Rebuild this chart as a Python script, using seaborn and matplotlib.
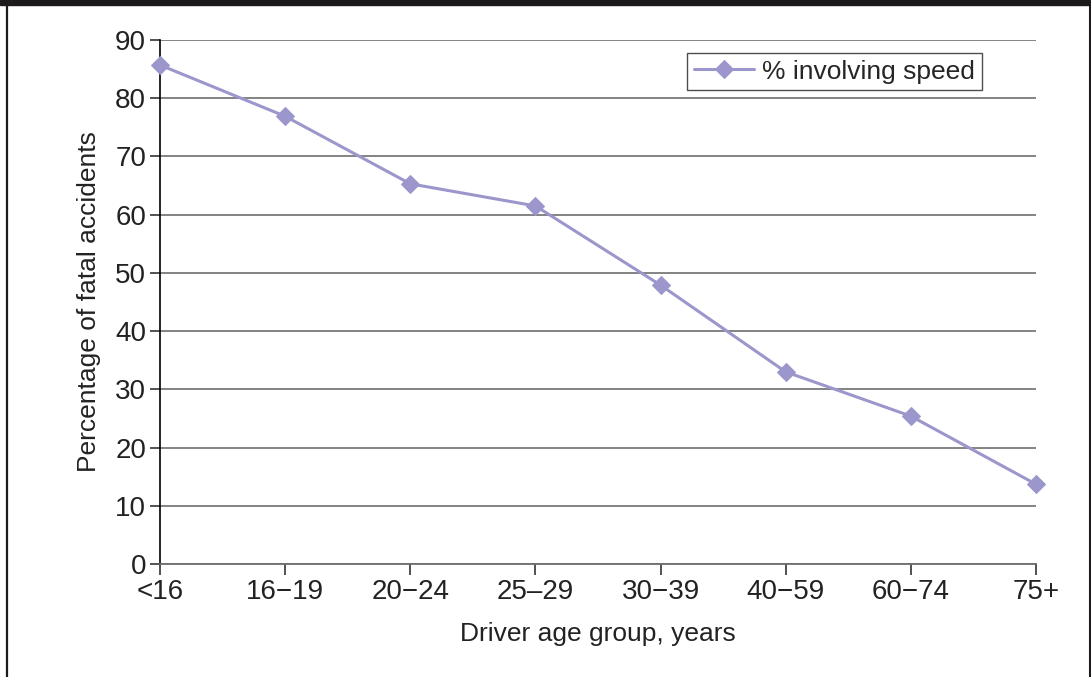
import matplotlib
matplotlib.use("Agg")
import matplotlib.pyplot as plt
import seaborn as sns
import pandas as pd
from matplotlib.lines import Line2D
from matplotlib.patches import Rectangle

age_groups = ["<16", "16\u221219", "20\u221224", "25\u201329", "30\u221239", "40\u221259", "60\u221274", "75+"]
pct_speed = [85.7, 76.9, 65.3, 61.5, 47.9, 33.0, 25.4, 13.7]

df = pd.DataFrame({"age": age_groups, "pct": pct_speed})
df["pos"] = range(len(df))

sns.set_style("white")
plt.rcParams["font.family"] = ["Liberation Sans", "DejaVu Sans"]

line_color = "#9b97cc"
W, H = 1091, 677

fig = plt.figure(figsize=(W / 100, H / 100), dpi=100)
ax = fig.add_axes([160 / W, 1 - 564 / H, (1036 - 160) / W, (564 - 40) / H])

sns.lineplot(data=df, x="pos", y="pct", ax=ax, color=line_color, linewidth=2.2,
             marker="D", markersize=9, markeredgecolor=line_color,
             label="% involving speed", clip_on=False, zorder=5)

ax.set_xlim(0, len(age_groups) - 1)
ax.set_ylim(0, 90)
ax.set_yticks(range(0, 91, 10))
ax.set_xticks(df["pos"])
ax.set_xticklabels(age_groups)
ax.yaxis.grid(True, color="#7a7a7a", linewidth=1.3)
ax.set_axisbelow(True)

for s in ["top", "right"]:
    ax.spines[s].set_visible(False)
ax.spines["left"].set_color("black")
ax.spines["left"].set_linewidth(1.2)
ax.spines["bottom"].set_color("#6e6e6e")
ax.spines["bottom"].set_linewidth(1.3)

ax.tick_params(axis="y", length=7, width=1.2, color="#333333", labelsize=20, pad=3, left=True)
ax.tick_params(axis="x", length=8, width=1.2, color="#333333", labelsize=20, pad=3, bottom=True, direction="out")

ax.set_xlabel("Driver age group, years", fontsize=19, labelpad=12, color="#222222")
ax.set_ylabel("Percentage of fatal accidents", fontsize=19, labelpad=10, color="#222222")
for t in ax.get_xticklabels() + ax.get_yticklabels():
    t.set_color("#222222")

leg = ax.legend(loc="upper right", bbox_to_anchor=(0.938, 0.975), fontsize=19,
                frameon=True, fancybox=False, edgecolor="#222222",
                handlelength=2.3, borderpad=0.25, handletextpad=0.3, borderaxespad=0)
leg.get_frame().set_linewidth(1.0)

# outer frame: thick top bar, thin left and right edges
fig.patches.append(Rectangle((0, 1 - 5 / H), 1, 5 / H, transform=fig.transFigure, color="#1c1a1a"))
fig.lines.append(Line2D([6.5 / W, 6.5 / W], [0, 1], transform=fig.transFigure, color="#1c1a1a", linewidth=1.6))
fig.lines.append(Line2D([1089.5 / W, 1089.5 / W], [0, 1], transform=fig.transFigure, color="#1c1a1a", linewidth=2.2))

fig.savefig("out.png", dpi=100)
